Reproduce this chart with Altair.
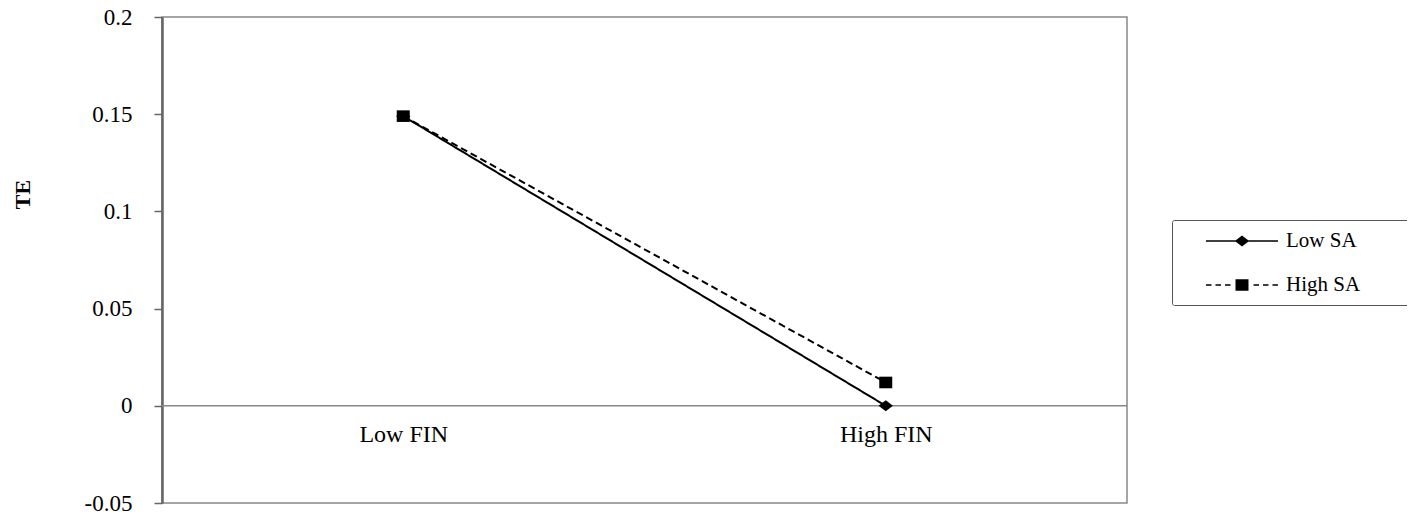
import altair as alt
import pandas as pd

# ---- data ----
fin_levels = ["Low FIN", "High FIN"]
series_names = ["Low SA", "High SA"]
low_sa_values = [0.149, 0.0]
high_sa_values = [0.149, 0.012]
y_tick_values = [-0.05, 0, 0.05, 0.1, 0.15, 0.2]
zero_line = [0]

rows = []
for lvl, v in zip(fin_levels, low_sa_values):
    rows.append({"FIN": lvl, "SA": "Low SA", "TE": v})
for lvl, v in zip(fin_levels, high_sa_values):
    rows.append({"FIN": lvl, "SA": "High SA", "TE": v})
df = pd.DataFrame(rows)

FONT = "Liberation Serif"

# plot markers (symbol units: 1 unit = 10 px at size 400)
diamond = "M-0.72,0L0,-0.55L0.72,0L0,0.55Z"
square = "M-0.65,-0.58L0.65,-0.58L0.65,0.58L-0.65,0.58Z"


def bar(x1, x2, h=0.075):
    return f"M{x1},{-h}L{x2},{-h}L{x2},{h}L{x1},{h}Z"


# legend glyphs: line (solid / dashed, as thin filled bars) with the marker
legend_solid = bar(-3.6, 3.6) + diamond
legend_dashed = (
    "".join(bar(a, b) for a, b in [(-3.6, -3.05), (-2.65, -2.1), (-1.7, -1.15)])
    + square
    + "".join(bar(a, b) for a, b in [(1.15, 1.7), (2.1, 2.65), (3.05, 3.6)])
)

BLANK = "\u2800"  # blank (non-whitespace) filler to widen the legend box
label_pad = BLANK * 3

x_enc = alt.X(
    "FIN:N",
    sort=fin_levels,
    scale=alt.Scale(type="point", padding=0.5),
    axis=alt.Axis(
        title=None, domain=False, ticks=False, tickSize=0, offset=-97,
        labelPadding=16, labelFontSize=24, labelFont=FONT, labelColor="black",
        labelAngle=0,
    ),
)
y_enc = alt.Y(
    "TE:Q",
    scale=alt.Scale(domain=[-0.05, 0.2], nice=False, zero=False),
    axis=alt.Axis(
        values=y_tick_values, labelExpr="'' + datum.value", grid=False,
        domainColor="#666", domainWidth=2.5, tickColor="#666", tickWidth=1.5,
        tickSize=8, labelPadding=22, labelFontSize=23, labelFont=FONT,
        labelColor="black", title="TE", titleFont=FONT, titleFontSize=22,
        titleFontWeight="bold", titleColor="black", titleX=-140, titleY=177,
        titleAngle=270, titleAlign="center", titleBaseline="middle",
    ),
)

base = alt.Chart(df)

rule = alt.Chart(pd.DataFrame({"TE": zero_line})).mark_rule(
    color="#888", strokeWidth=1.5
).encode(y=alt.Y("TE:Q"))

lines = base.mark_line(color="black", strokeWidth=2).encode(
    x=x_enc,
    y=y_enc,
    strokeDash=alt.StrokeDash(
        "SA:N",
        scale=alt.Scale(domain=series_names, range=[[1, 0], [7, 4]]),
        legend=None,
    ),
)

points = base.mark_point(filled=True, size=400, opacity=1, color="black").encode(
    x=x_enc,
    y=y_enc,
    shape=alt.Shape(
        "SA:N",
        scale=alt.Scale(domain=series_names, range=[diamond, square]),
        legend=None,
    ),
)

# legend-only layer (no rows drawn), carrying the line+marker legend glyphs
legend_layer = (
    base.transform_filter("datum.TE > 1")
    .mark_point(filled=True, size=400, opacity=1, color="black")
    .encode(
        x=x_enc,
        y=y_enc,
        shape=alt.Shape(
            "SA:N",
            scale=alt.Scale(domain=series_names, range=[legend_solid, legend_dashed]),
            legend=alt.Legend(
                title=None, orient="none", legendX=1010, legendY=203,
                padding=10, rowPadding=23, symbolOffset=49, labelOffset=33,
                labelFont=FONT, labelFontSize=21, labelColor="black",
                strokeColor="#555", fillColor="white", cornerRadius=2,
                symbolSize=400, symbolFillColor="black",
                labelExpr="datum.label + '" + label_pad + "'",
            ),
        ),
    )
)

chart = (
    alt.layer(rule, lines, points, legend_layer)
    .resolve_scale(shape="independent")
    .properties(
        width=965,
        height=486,
        autosize=alt.AutoSizeParams(type="none"),
        padding={"left": 154, "top": 9, "right": 280, "bottom": 10},
        background="white",
    )
    .configure_view(stroke="#888", strokeWidth=1.5)
)

chart.save("out.html", embed_options={"renderer": "svg", "actions": False})
